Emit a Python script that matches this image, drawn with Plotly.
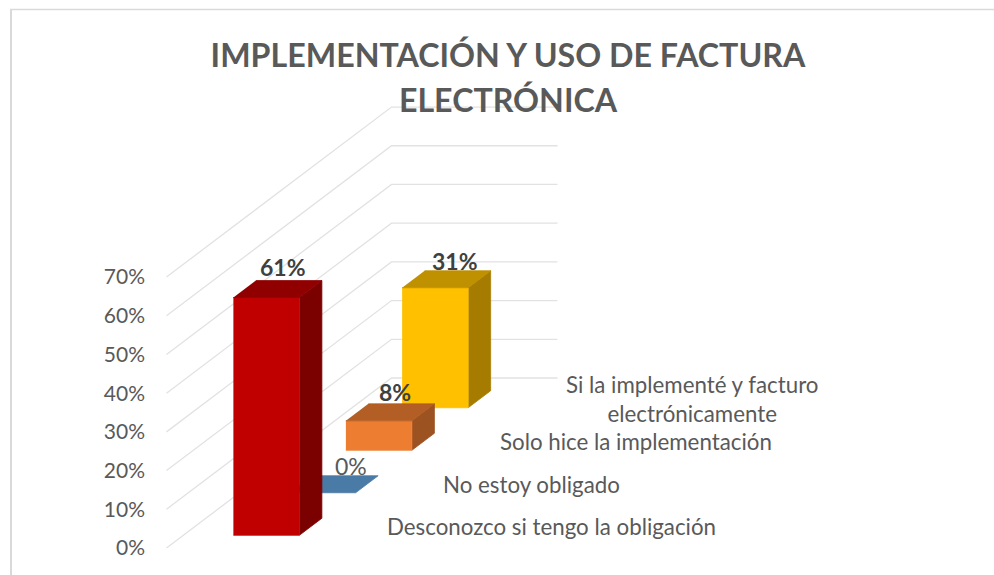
import plotly.graph_objects as go

# ---- data ----
categories = ["Desconozco si tengo la obligación", "No estoy obligado",
              "Solo hice la implementación", "Si la implementé y facturo<br>electrónicamente"]
values = [61.4, 0.0, 7.6, 31.0]
ticks = [0, 10, 20, 30, 40, 50, 60, 70]
title_lines = ["IMPLEMENTACIÓN Y USO DE FACTURA", "ELECTRÓNICA"]

# ---- styles ----
front_colors = ["#C00000", "#41719C", "#ED7D31", "#FFC000"]
side_colors = ["#7B0000", "#2F5597", "#9C5221", "#A67C00"]
top_colors = ["#900000", "#4A7BA7", "#B35E24", "#BF9000"]
label_bold = [True, False, True, True]
label_dx = [-6, 6, -6, -3]
label_dy = [14, 10, 12, 10]
cat_dx = [24, 24, 25, 35]
FONT = "Lato"
GRAY = "#595959"
GRID = "#E2E2E2"

W, H = 994, 575
LEFT = 146
X0_PX, Y0_PX = 166.5, 548.0     # front-left floor corner of the 3D box
UNIT = 3.871                    # pixels per percentage point
WALL_W = 166.0                  # box width along the category slot
DEPTH_X, DEPTH_Y = 225.0, 170.0 # oblique offset from front to back
LIFT = DEPTH_Y / UNIT
N = len(categories)
GAP, BAR = 50.0 / WALL_W, 66.0 / WALL_W
DGAP = 0.3


def px(u, d):
    return WALL_W * u + DEPTH_X * d


def pv(v, d):
    return v + LIFT * d


def paper_x(p):
    return (p - LEFT) / (W - LEFT)


fig = go.Figure()


def line(us, ds, vs, width=1.3):
    fig.add_trace(go.Scatter(x=[px(u, d) for u, d in zip(us, ds)],
                             y=[pv(v, d) for v, d in zip(vs, ds)],
                             mode="lines", line=dict(color=GRID, width=width),
                             hoverinfo="skip", showlegend=False))


def face(us, ds, vs, color):
    fig.add_trace(go.Scatter(x=[px(u, d) for u, d in zip(us, ds)],
                             y=[pv(v, d) for v, d in zip(vs, ds)],
                             mode="lines", fill="toself", fillcolor=color,
                             line=dict(color=color, width=0.8),
                             hoverinfo="skip", showlegend=False))


for t in ticks:
    line([0, 0, 1], [0, 1, 1], [t, t, t])

for i in reversed(range(N)):
    v = values[i]
    d0, d1 = (i + DGAP) / N, (i + 1 - DGAP) / N
    u0, u1 = GAP, GAP + BAR
    if v > 0:
        face([u1, u1, u1, u1], [d0, d1, d1, d0], [0, 0, v, v], side_colors[i])
        face([u0, u1, u1, u0], [d0, d0, d0, d0], [0, 0, v, v], front_colors[i])
    face([u0, u1, u1, u0], [d0, d0, d1, d1], [v, v, v, v], top_colors[i])

annotations = []
for i, (name, v) in enumerate(zip(categories, values)):
    d = (i + 0.5) / N
    annotations.append(dict(x=px(1, d) + cat_dx[i], y=pv(0, d), text=name, showarrow=False,
                            xanchor="left", yanchor="middle", align="center",
                            font=dict(family=FONT, size=22.3, color=GRAY)))
    d1 = (i + 1 - DGAP) / N
    annotations.append(dict(x=px(GAP + BAR / 2, d1), y=pv(v, d1), text=f"{v:.0f}%", showarrow=False,
                            xanchor="center", yanchor="middle", xshift=label_dx[i], yshift=label_dy[i],
                            font=dict(family=FONT, size=23, color="#404040" if label_bold[i] else GRAY,
                                      weight="bold" if label_bold[i] else "normal")))

shapes = [
    dict(type="line", xref="paper", yref="paper", x0=paper_x(11), x1=paper_x(11),
         y0=1 - 9 / H, y1=0, line=dict(color="#D9D9D9", width=2)),
    dict(type="line", xref="paper", yref="paper", x0=paper_x(10), x1=1,
         y0=1 - 9.5 / H, y1=1 - 9.5 / H, line=dict(color="#D9D9D9", width=1.5)),
]

title_text = "<br>".join(f"<span style='font-size:32.2px'>{t}</span>" for t in title_lines)

fig.update_layout(
    width=W, height=H, margin=dict(l=LEFT, r=0, t=0, b=0),
    paper_bgcolor="white", plot_bgcolor="white", showlegend=False,
    title=dict(text=title_text, x=508 / W, xref="container", xanchor="center",
               y=1 - 67 / H, yref="container", yanchor="middle",
               font=dict(family=FONT, size=34.6, color=GRAY, weight="bold")),
    xaxis=dict(visible=False, range=[LEFT - X0_PX, W - X0_PX]),
    yaxis=dict(range=[(Y0_PX - H) / UNIT, Y0_PX / UNIT], tickvals=ticks,
               ticktext=[f"{t}%" for t in ticks], showgrid=False, zeroline=False,
               showline=False, ticks="", tickfont=dict(family=FONT, size=21, color=GRAY)),
    annotations=annotations, shapes=shapes,
)

fig.write_html("out.html", config={"displayModeBar": False},
               post_script="document.body.style.margin='0';document.documentElement.style.overflow='hidden';")
